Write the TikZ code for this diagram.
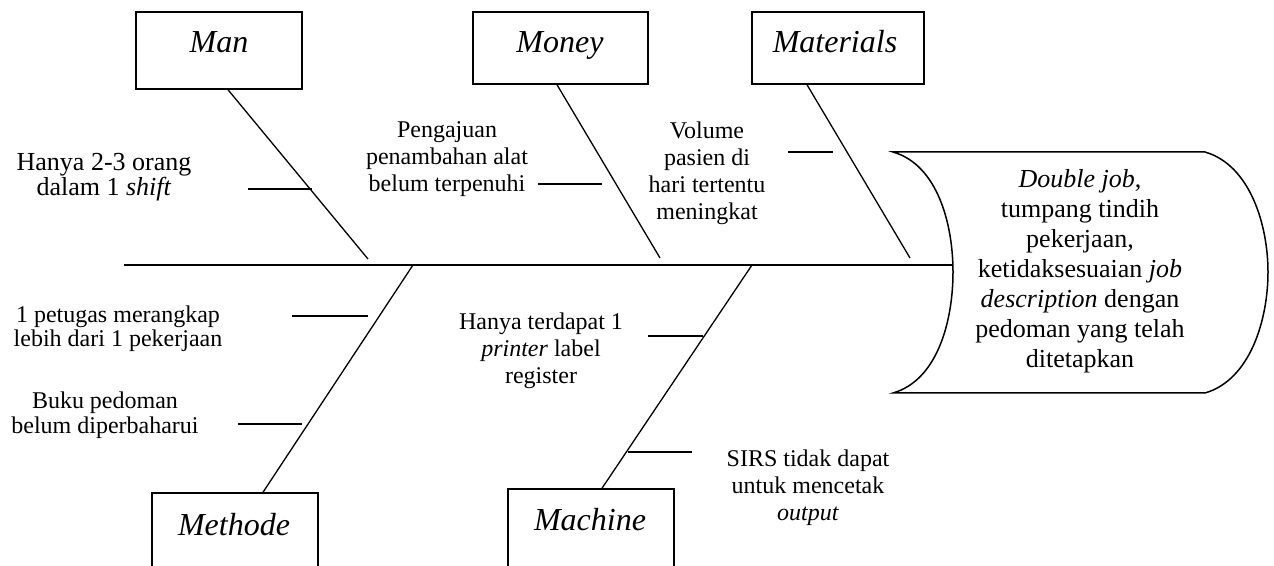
\documentclass[tikz,border=0pt]{standalone}
\usepackage{fontspec}
\setmainfont{Liberation Serif}
\usepackage{tikz}
\setlength{\lineskiplimit}{-20pt}

\begin{document}
\begin{tikzpicture}[x=0.5pt, y=-0.5pt,
        catbox/.style={draw, line width=0.75pt, inner sep=0pt},
        catlabel/.style={anchor=base, inner sep=0pt, font=\fontsize{16}{18}\selectfont\itshape},
        bone/.style={line width=0.65pt},
        twig/.style={line width=0.65pt},
        cause/.style={anchor=north, align=center, inner sep=0pt},
        f12/.style={font=\fontsize{12}{13.5}\selectfont}]
        \path[use as bounding box, clip] (0,0) rectangle (1274,566);
        % kotak kategori
        \node[catbox, minimum width=83pt, minimum height=38.5pt] (man) at (219, 50.5) {};
        \node[catbox, minimum width=87.5pt, minimum height=36pt] (money) at (560.5, 48) {};
        \node[catbox, minimum width=86pt, minimum height=36pt] (mat) at (838, 48) {};
        \node[catbox, minimum width=83pt, minimum height=45pt] (met) at (235, 538) {};
        \node[catbox, minimum width=83pt, minimum height=45pt] (mach) at (591, 534) {};
        \node[catlabel] (L1) at (219, 53) {Man};
        \node[catlabel] (L2) at (560, 53) {Money};
        \node[catlabel] (L3) at (835, 53) {Materials};
        \node[catlabel] (L4) at (234, 535) {Methode};
        \node[catlabel] (L5) at (590, 530) {Machine};
        % kepala ikan
        \draw[line width=0.75pt] (893,152) -- (1205,152)
            .. controls (1250,165) and (1268,225) .. (1268,272)
            .. controls (1268,320) and (1250,380) .. (1205,393) -- (893,393)
            .. controls (938,380) and (953,320) .. (953,272)
            .. controls (953,225) and (938,165) .. cycle;
        \node[cause, font=\fontsize{13}{15}\selectfont] (eff) at (1080, 169)
            {\textit{Double job},\\ tumpang tindih\\ pekerjaan,\\ ketidaksesuaian \textit{job}\\
             \textit{description} dengan\\ pedoman yang telah\\ ditetapkan};
        % tulang utama
        \coordinate (tail) at (124, 265);
        \coordinate (mouth) at (953, 265);
        \draw[line width=0.9pt] (tail) -- (mouth);
        \coordinate (A1) at (368, 259);
        \coordinate (A2) at (660, 258);
        \coordinate (A3) at (910, 258);
        \coordinate (A4) at (413, 265);
        \coordinate (A5) at (752, 265);
        \draw[bone] ([xshift=4.5pt]man.south) -- (A1);
        \draw[bone] ([xshift=-1.75pt]money.south) -- (A2);
        \draw[bone] ([xshift=-15.5pt]mat.south) -- (A3);
        \draw[bone] (A4) -- ([xshift=14pt]met.north);
        \draw[bone] (A5) -- ([xshift=5.5pt]mach.north);
        % penyebab
        \coordinate (T1) at (248, 189);
        \coordinate (T2) at (538, 184);
        \coordinate (T3) at (788, 152);
        \coordinate (T4) at (292, 316);
        \coordinate (T5) at (238, 424);
        \coordinate (T6) at (648, 336);
        \coordinate (T7) at (628, 452);
        \draw[twig] (T1) -- +(64,0);
        \draw[twig] (T2) -- +(64,0);
        \draw[twig] (T3) -- +(45,0);
        \draw[twig] (T4) -- +(76,0);
        \draw[twig] (T5) -- +(64,0);
        \draw[twig] (T6) -- +(55,0);
        \draw[twig] (T7) -- +(64,0);
        \node[cause, font=\fontsize{13}{12.5}\selectfont] (C1) at (104, 153)
            {Hanya 2-3 orang\\ dalam 1 \textit{shift}};
        \node[cause, f12] (C2) at (447, 121) {Pengajuan\\ penambahan alat\\ belum terpenuhi};
        \node[cause, f12] (C3) at (707, 121) {Volume\\ pasien di\\ hari tertentu\\ meningkat};
        \node[cause, font=\fontsize{12}{12}\selectfont] (C4) at (118, 305)
            {1 petugas merangkap\\ lebih dari 1 pekerjaan};
        \node[cause, font=\fontsize{12}{12.5}\selectfont] (C5) at (105, 391)
            {Buku pedoman\\ belum diperbaharui};
        \node[cause, f12] (C6) at (541, 312) {Hanya terdapat 1\\ \textit{printer} label\\ register};
        \node[cause, f12] (C7) at (808, 449) {SIRS tidak dapat\\ untuk mencetak\\ \textit{output}};
    \end{tikzpicture}
\end{document}
